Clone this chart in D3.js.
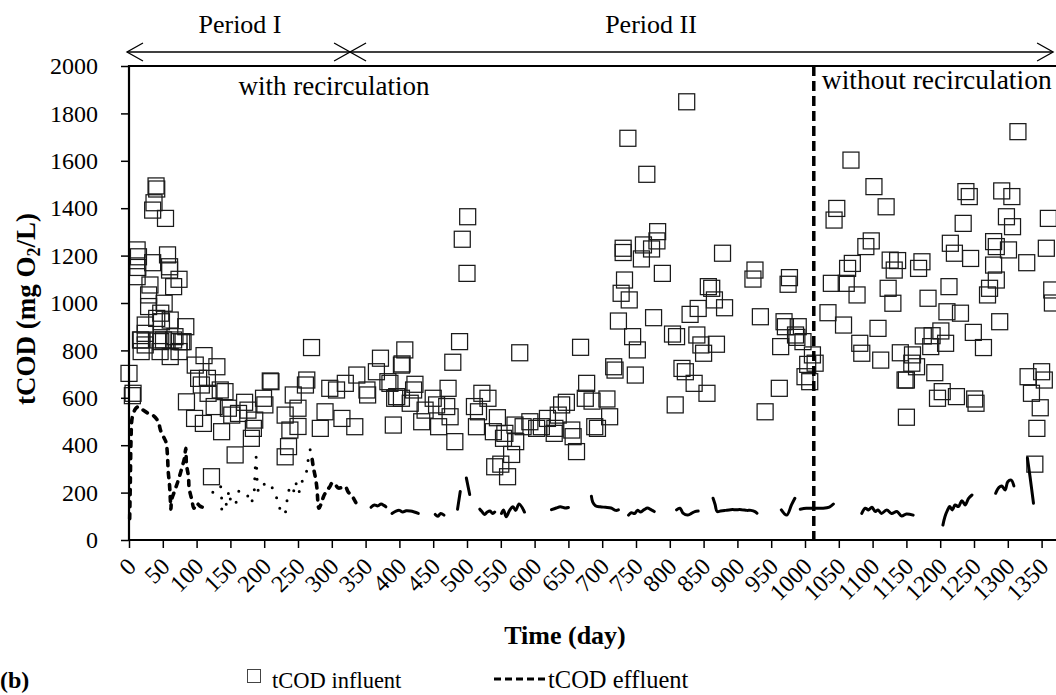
<!DOCTYPE html>
<html>
<head>
<meta charset="utf-8">
<script src="https://cdn.jsdelivr.net/npm/d3@7/dist/d3.min.js"></script>
<style>
  body { margin: 0; background: #fff; }
  svg text { font-family: "Liberation Serif", "Times New Roman", serif !important; fill: #000; }
</style>
</head>
<body>
<svg id="chart" width="1056" height="695"></svg>
<script>
// ---- data ---------------------------------------------------------------
const dayTicks = d3.range(0, 1400, 50);          // 0 … 1350
const codTicks = d3.range(0, 2001, 200);         // 0 … 2000

// influent total COD (mg O2/L) by operating day
const influentDay = [
  0, 5, 6, 12, 14, 13, 12, 17, 18, 18, 24, 24, 24, 29, 29, 31, 35, 35, 37, 40,
  41, 41, 43, 46, 47, 47, 48, 51, 52, 54, 57, 60, 60, 61, 61, 66, 66, 68, 74, 74,
  74, 78, 80, 84, 85, 97, 98, 103, 107, 110, 111, 116, 117, 122, 126, 130, 135, 137, 142, 147,
  152, 157, 162, 171, 176, 181, 184, 186, 199, 201, 209, 210, 231, 231, 236, 238, 243, 250, 250, 261,
  263, 270, 283, 290, 297, 307, 315, 320, 334, 337, 352, 353, 366, 372, 383, 386, 391, 393, 396, 403,
  403, 404, 408, 416, 421, 423, 433, 438, 450, 455, 458, 470, 472, 475, 479, 482, 489, 493, 500, 501,
  511, 514, 517, 522, 531, 539, 541, 545, 550, 554, 556, 560, 566, 571, 572, 578, 583, 593, 603, 610,
  619, 629, 630, 635, 640, 647, 655, 657, 662, 668, 675, 677, 685, 689, 693, 707, 711, 717, 719, 724,
  728, 731, 731, 733, 738, 740, 745, 749, 752, 758, 761, 766, 773, 776, 781, 782, 789, 804, 808, 810,
  818, 823, 825, 830, 836, 840, 842, 846, 850, 855, 857, 862, 866, 869, 878, 881, 923, 926, 934, 941,
  962, 964, 969, 971, 975, 977, 986, 988, 990, 997, 1000, 1004, 1007, 1011, 1015, 1034, 1039, 1043, 1047, 1057,
  1061, 1063, 1068, 1070, 1077, 1081, 1084, 1090, 1098, 1102, 1108, 1112, 1120, 1123, 1126, 1130, 1132, 1137, 1141, 1148,
  1150, 1150, 1158, 1159, 1165, 1168, 1173, 1175, 1182, 1186, 1188, 1192, 1196, 1201, 1203, 1208, 1210, 1213, 1215, 1221,
  1224, 1230, 1234, 1238, 1243, 1245, 1249, 1251, 1253, 1264, 1270, 1273, 1279, 1279, 1283, 1283, 1288, 1291, 1298, 1301,
  1306, 1307, 1315, 1328, 1330, 1335, 1340, 1343, 1348, 1350, 1354, 1357, 1360, 1365, 1366
];
const influentCOD = [
  703, 609, 619, 1224, 1195, 1150, 1111, 844, 844, 795, 907, 872, 823, 1034, 985, 1076, 1392, 1170, 1423, 1494,
  1481, 935, 844, 795, 957, 837, 921, 844, 999, 1357, 1203, 1153, 1139, 928, 774, 1069, 844, 858, 1100, 837,
  795, 837, 837, 900, 583, 513, 738, 682, 654, 492, 778, 682, 619, 267, 563, 731, 633, 457, 626, 556,
  527, 359, 534, 581, 548, 429, 471, 506, 598, 570, 671, 668, 527, 351, 394, 464, 612, 556, 479, 654,
  675, 812, 471, 541, 640, 633, 513, 661, 478, 696, 633, 612, 710, 767, 668, 661, 485, 598, 605, 738,
  598, 743, 802, 577, 633, 657, 499, 548, 598, 570, 478, 563, 640, 520, 750, 415, 837, 1269, 1125, 1364,
  563, 478, 541, 619, 598, 457, 309, 516, 320, 429, 450, 267, 361, 485, 415, 790, 478, 499, 471, 478,
  513, 450, 471, 527, 570, 581, 464, 436, 373, 813, 598, 661, 586, 478, 471, 595, 520, 731, 717, 924,
  1041, 1231, 1213, 1097, 1695, 1013, 858, 696, 802, 1186, 1245, 1543, 1228, 938, 1262, 1301, 1125, 869, 570, 858,
  724, 710, 1849, 952, 661, 865, 977, 823, 788, 619, 1069, 1062, 1013, 826, 1210, 980, 1101, 1139, 942, 541,
  640, 816, 921, 900, 1079, 1107, 865, 855, 900, 837, 689, 741, 668, 781, 746, 959, 1083, 1350, 1399, 907,
  1083, 1146, 1603, 1167, 1034, 830, 788, 1238, 1262, 1491, 893, 759, 1406, 1062, 1181, 999, 1139, 1179, 790, 675,
  675, 518, 746, 781, 731, 1146, 1174, 861, 1020, 816, 862, 706, 598, 882, 626, 830, 963, 1069, 1252, 1210,
  605, 957, 1336, 1470, 1449, 1188, 876, 595, 577, 812, 1034, 1062, 1259, 1160, 1238, 1097, 921, 1473, 1364, 1224,
  1449, 1322, 1723, 1170, 689, 619, 320, 471, 558, 710, 675, 1231, 1357, 1055, 1000
];

// effluent total COD (mg O2/L); null marks a break in the record
const effluentDay = [
  1, 2, 3, 5, 10, 14, 20, 28, 36, 43, 47, 52, 55, 57, 58, 60, 61, 62, 63, 68,
  73, 78, 82, 84, 85, 88, 89, 93, 96, 100, 105, 110, 115, 117, null,
  124, 132, 135, 137, 138, 145, 148, 152, 157, 163, 168, 174, 180, 185, 186, 187, 188, 189, 190,
  192, 198, 205, 213, 220, 227, 233, 234, 237, 242, 246, 251, 254, 259, 264, 266, 269, null,
  271, 273, 276, 278, 281, 285, 288, 292, 297, 301, 306, 310, 315, 320, 324, 328, 332, 336, 339, null,
  358, 363, 368, 373, 377, 380, null,
  389, 395, 400, 405, 410, 416, 422, 428, null,
  453, 457, 461, 466, null,
  486, 490, null,
  499, 504, null,
  519, 522, 526, 530, 534, 538, 541, null,
  551, 554, 558, 563, 568, 572, 577, 585, null,
  625, 632, 638, 645, 650, null,
  684, 686, 690, 697, 705, 713, 720, 724, null,
  739, 743, 748, 752, 757, 762, 767, 772, 777, null,
  810, 815, 820, 826, 832, 837, 842, null,
  864, 867, 870, 875, 882, 890, 898, 906, 914, 920, 926, 929, null,
  965, 973, 980, 985, null,
  993, 1002, 1014, 1026, 1036, 1042, null,
  1084, 1089, 1094, 1099, 1104, 1108, 1113, 1121, 1128, 1136, 1143, 1150, 1160, null,
  1204, 1207, 1211, 1214, 1218, 1222, 1227, 1232, 1237, 1242, 1247, null,
  1282, 1287, 1291, 1296, 1300, 1305, 1309, null,
  1329, 1333, 1338
];
const effluentCOD = [
  90, 250, 420, 520, 555, 562, 550, 535, 525, 500, 460, 430, 410, 350, 290, 230, 180, 130, 169, 211,
  253, 302, 345, 387, 320, 267, 218, 169, 134, 155, 143, 138, 143, 148, null,
  202, 215, 228, 177, 120, 160, 207, 152, 152, 207, 200, 194, 155, 204, 257, 316, 350, 292, 236,
  204, 230, 243, 215, 165, 108, 127, 183, 211, 190, 245, 199, 241, 257, 309, 367, 387, null,
  340, 302, 260, 219, 134, 160, 185, 205, 225, 242, 230, 219, 222, 225, 204, 190, 177, 155, 134, null,
  138, 148, 144, 152, 146, 140, null,
  112, 122, 125, 118, 123, 122, 118, 112, null,
  108, 100, 112, 105, null,
  130, 205, null,
  262, 192, null,
  130, 120, 108, 118, 122, 112, 118, null,
  112, 127, 98, 125, 140, 125, 152, 118, null,
  128, 135, 140, 135, 137, null,
  185, 160, 145, 140, 138, 135, 125, 127, null,
  105, 115, 112, 125, 118, 128, 135, 128, 120, null,
  127, 134, 112, 105, 112, 120, 122, null,
  176, 150, 120, 122, 125, 128, 128, 128, 125, 125, 120, 113, null,
  127, 105, 148, 176, null,
  130, 134, 134, 134, 139, 152, null,
  112, 134, 127, 138, 120, 127, 112, 127, 112, 120, 101, 110, 105, null,
  63, 98, 127, 141, 127, 148, 141, 166, 148, 176, 190, null,
  197, 222, 228, 211, 246, 253, 228, null,
  346, 265, 155
];

// operating periods (day boundaries) and reactor modes
const periodNames = ["Period I", "Period II"];
const periodBounds = [0, 327, 1367];
const modeNames = ["with recirculation", "without recirculation"];
const modeSwitchDay = 1013;

// ---- layout -------------------------------------------------------------
const FONT = '"Liberation Serif", "Times New Roman", serif';
const svg = d3.select("#chart");
const plot = { left: 129, top: 66, bottom: 540, right: 1075.4 };

const x = d3.scaleLinear().domain([0, 1400]).range([plot.left, plot.right]);
const y = d3.scaleLinear().domain([0, 2000]).range([plot.bottom, plot.top]);

function label(parent, px, py, str, size, anchor, bold) {
  return parent.append("text")
    .attr("x", px).attr("y", py)
    .attr("text-anchor", anchor || "start")
    .style("font-family", FONT)
    .style("font-size", size + "px")
    .style("font-weight", bold ? "bold" : "normal")
    .text(str);
}

// ---- influent markers ---------------------------------------------------
const influent = influentDay.map((d, i) => ({ day: d, cod: influentCOD[i] }));
const sq = 16;
svg.append("g")
  .selectAll("rect")
  .data(influent)
  .join("rect")
  .attr("x", d => x(d.day) - sq / 2)
  .attr("y", d => y(d.cod) - sq / 2)
  .attr("width", sq)
  .attr("height", sq)
  .attr("fill", "none")
  .attr("stroke", "#1a1a1a")
  .attr("stroke-width", 1.25);

// ---- effluent line ------------------------------------------------------
const runs = [];
let cur = [];
effluentDay.forEach((d, i) => {
  const v = effluentCOD[i];
  if (d == null || v == null) { if (cur.length) runs.push(cur); cur = []; }
  else cur.push({ day: d, cod: v });
});
if (cur.length) runs.push(cur);

const line = d3.line().x(d => x(d.day)).y(d => y(d.cod)).curve(d3.curveCatmullRom.alpha(0.5));
function dashFor(run) {
  const start = run[0].day;
  if (start < 120) return "5,7";
  if (start < 270) return "0,11";
  if (start < 345) return "5,7";
  return null;
}
svg.append("g")
  .selectAll("path")
  .data(runs)
  .join("path")
  .attr("d", line)
  .attr("fill", "none")
  .attr("stroke", "#000")
  .attr("stroke-width", d => (d[0].day < 120 || (d[0].day >= 270 && d[0].day < 345)) ? 3.6 : 3)
  .attr("stroke-linecap", "round")
  .attr("stroke-linejoin", "round")
  .attr("stroke-dasharray", dashFor);

// ---- recirculation switch ----------------------------------------------
svg.append("line")
  .attr("x1", x(modeSwitchDay)).attr("x2", x(modeSwitchDay))
  .attr("y1", plot.top).attr("y2", plot.bottom)
  .attr("stroke", "#000").attr("stroke-width", 3.5)
  .attr("stroke-dasharray", "10,5");

// ---- axes ---------------------------------------------------------------
const yAxis = d3.axisLeft(y).tickValues(codTicks).tickSize(8).tickPadding(23).tickFormat(d3.format("d"));
const gy = svg.append("g").attr("transform", `translate(${plot.left},0)`).call(yAxis);
gy.select(".domain").remove();
gy.selectAll(".tick line").attr("stroke", "#000").attr("stroke-width", 1.5);
gy.selectAll(".tick text").style("font-family", FONT).style("font-size", "24px");

const xAxis = d3.axisBottom(x).tickValues(dayTicks).tickSize(8).tickFormat(d3.format("d"));
const gx = svg.append("g").attr("transform", `translate(0,${plot.bottom})`).call(xAxis);
gx.select(".domain").remove();
gx.selectAll(".tick line").attr("stroke", "#000").attr("stroke-width", 1.5);
gx.selectAll(".tick text")
  .style("font-family", FONT).style("font-size", "24px")
  .attr("text-anchor", "end")
  .attr("y", 0).attr("dy", 0)
  .attr("transform", "translate(8,28) rotate(-45)");

// frame lines: left axis, bottom axis, top edge
svg.append("line").attr("x1", plot.left).attr("x2", plot.left).attr("y1", plot.top - 1).attr("y2", plot.bottom + 1)
  .attr("stroke", "#000").attr("stroke-width", 2.2);
svg.append("line").attr("x1", plot.left - 1).attr("x2", plot.right).attr("y1", plot.bottom).attr("y2", plot.bottom)
  .attr("stroke", "#000").attr("stroke-width", 2.2);
svg.append("line").attr("x1", plot.left - 1).attr("x2", plot.right).attr("y1", plot.top).attr("y2", plot.top)
  .attr("stroke", "#000").attr("stroke-width", 2);

// ---- period arrows ------------------------------------------------------
const arrowY = 52;
const ga = svg.append("g").attr("stroke", "#000").attr("stroke-width", 1.3).attr("fill", "none");
ga.append("line").attr("x1", x(periodBounds[0]) - 2).attr("x2", x(periodBounds[2])).attr("y1", arrowY).attr("y2", arrowY);
function chevron(px, dir) {
  ga.append("path").attr("d", `M${px + dir * 16},${arrowY - 9} L${px},${arrowY} L${px + dir * 16},${arrowY + 9}`);
}
chevron(x(periodBounds[0]) - 2, 1);
chevron(x(periodBounds[1]), -1);
chevron(x(periodBounds[1]), 1);
chevron(x(periodBounds[2]), -1);

label(svg, 240, 33, periodNames[0], 26, "middle");
label(svg, 651, 33, periodNames[1], 26, "middle");
label(svg, 334, 95, modeNames[0], 27, "middle");
label(svg, x(modeSwitchDay) + 8, 89, modeNames[1], 27.5, "start");

// ---- axis titles --------------------------------------------------------
label(svg, 565, 644, "Time (day)", 26, "middle", true);

const yt = svg.append("text")
  .attr("transform", `translate(35,${(plot.top + plot.bottom) / 2 + 6}) rotate(-90)`)
  .attr("text-anchor", "middle")
  .style("font-family", FONT).style("font-size", "27px").style("font-weight", "bold");
yt.append("tspan").text("tCOD (mg O");
yt.append("tspan").style("font-size", "18px").attr("dy", 5).text("2");
yt.append("tspan").attr("dy", -5).text("/L)");

// ---- legend -------------------------------------------------------------
label(svg, 0, 688, "(b)", 24, "start", true);
svg.append("rect").attr("x", 247.5).attr("y", 669.5).attr("width", 13).attr("height", 13)
  .attr("fill", "none").attr("stroke", "#444").attr("stroke-width", 1);
label(svg, 272, 688, "tCOD influent", 22.5, "start");
svg.append("line").attr("x1", 494).attr("x2", 548).attr("y1", 679).attr("y2", 679)
  .attr("stroke", "#000").attr("stroke-width", 3).attr("stroke-dasharray", "7,4");
label(svg, 548, 688, "tCOD effluent", 24.5, "start");
</script>
</body>
</html>
